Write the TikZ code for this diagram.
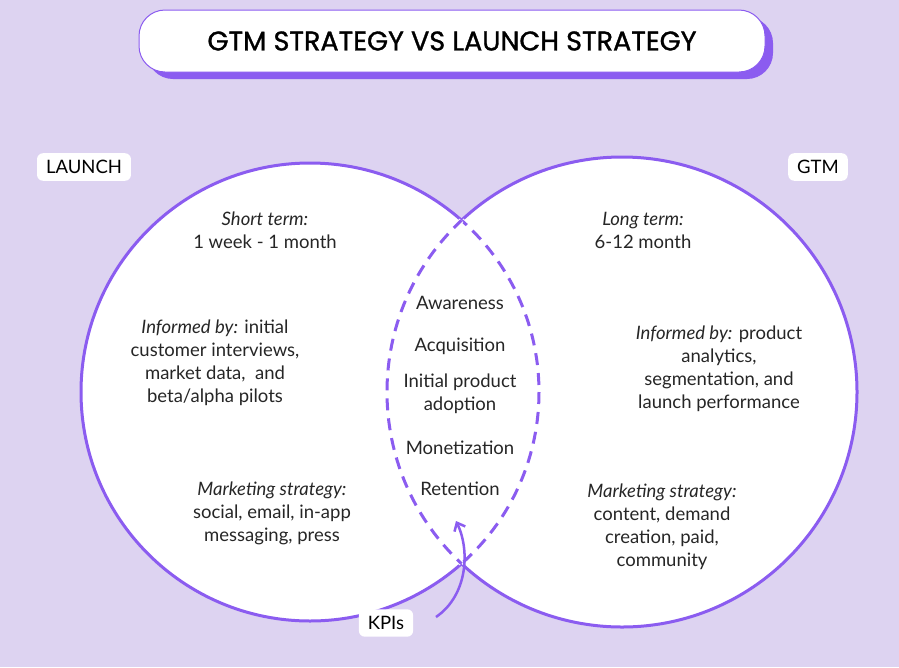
\documentclass[tikz,border=0pt]{standalone}
\usepackage{fontspec}
\setmainfont{Lato}
\newfontfamily\titlefont[FakeBold=1.2]{Poppins}
\usetikzlibrary{arrows.meta}
\definecolor{bg}{HTML}{DDD3F1}
\definecolor{pur}{HTML}{8B5CF0}
\tikzset{
  txt/.style={align=center,font=\fontsize{18.5}{23}\selectfont,text=black!85},
  tag/.style={fill=white,rounded corners=6pt,inner xsep=9pt,inner ysep=7pt,font=\fontsize{18.5}{20}\selectfont},
  ring/.style={draw=pur,line width=3pt},
}
\begin{document}
\begin{tikzpicture}[x=1pt,y=-1pt]
\fill[bg] (0,0) rectangle (899,667);
\useasboundingbox (0,0) rectangle (899,667);
% title
\fill[pur,rounded corners=26pt] (147,17) rectangle (773,79);
\node[draw=pur,line width=1pt,fill=white,rounded corners=26pt,minimum width=626pt,minimum height=62pt,font=\titlefont\fontsize{27}{30}\selectfont] (title) at (452,41) {GTM STRATEGY VS LAUNCH STRATEGY};
% circles
\coordinate (lc) at (310,392);
\coordinate (rc) at (622,392);
\fill[white] (lc) circle (229);
\fill[white] (rc) circle (235);
\draw[ring] (lc) circle (229);
\draw[ring] (rc) circle (235);
\begin{scope}
  \clip (rc) circle (235);
  \draw[white,line width=5pt] (lc) circle (229);
  \draw[ring,dash pattern=on 12pt off 8pt] (lc) circle (229);
\end{scope}
\begin{scope}
  \clip (lc) circle (229);
  \draw[white,line width=5pt] (rc) circle (235);
  \draw[ring,dash pattern=on 12pt off 8pt] (rc) circle (235);
\end{scope}
% tags
\node[tag] (launch) at (84,167) {LAUNCH};
\node[tag] (gtm) at (818,167) {GTM};
\node[tag] (kpi) at (386,623) {KPIs};
% left texts
\node[txt] (l1) at (265,230) {\textit{Short term:}\\1 week - 1 month};
\node[txt] (l2) at (215,363) {\textit{Informed by:} initial\\customer interviews,\\market data,\ \ and\\beta/alpha pilots};
\node[txt] (l3) at (272,513) {\textit{Marketing strategy:}\\social, email, in-app\\messaging, press};
% middle
\node[txt] (m1) at (460,303) {Awareness};
\node[txt] (m2) at (460,346) {Acquisition};
\node[txt] (m3) at (460,394) {Initial product\\adoption};
\node[txt] (m4) at (460,448) {Monetization};
\node[txt] (m5) at (460,489) {Retention};
% right
\node[txt] (r1) at (643,230) {\textit{Long term:}\\6-12 month};
\node[txt] (r2) at (719,369) {\textit{Informed by:} product\\analytics,\\segmentation, and\\launch performance};
\node[txt] (r3) at (662,527) {\textit{Marketing strategy:}\\content, demand\\creation, paid,\\community};
% arrow
\coordinate (as) at (436,617);
\coordinate (ae) at (456,521);
\draw[pur,line width=2.5pt,-{Straight Barb[length=7pt,width=12pt]}] (as) .. controls (468,595) and (470,550) .. (ae);
\end{tikzpicture}
\end{document}
